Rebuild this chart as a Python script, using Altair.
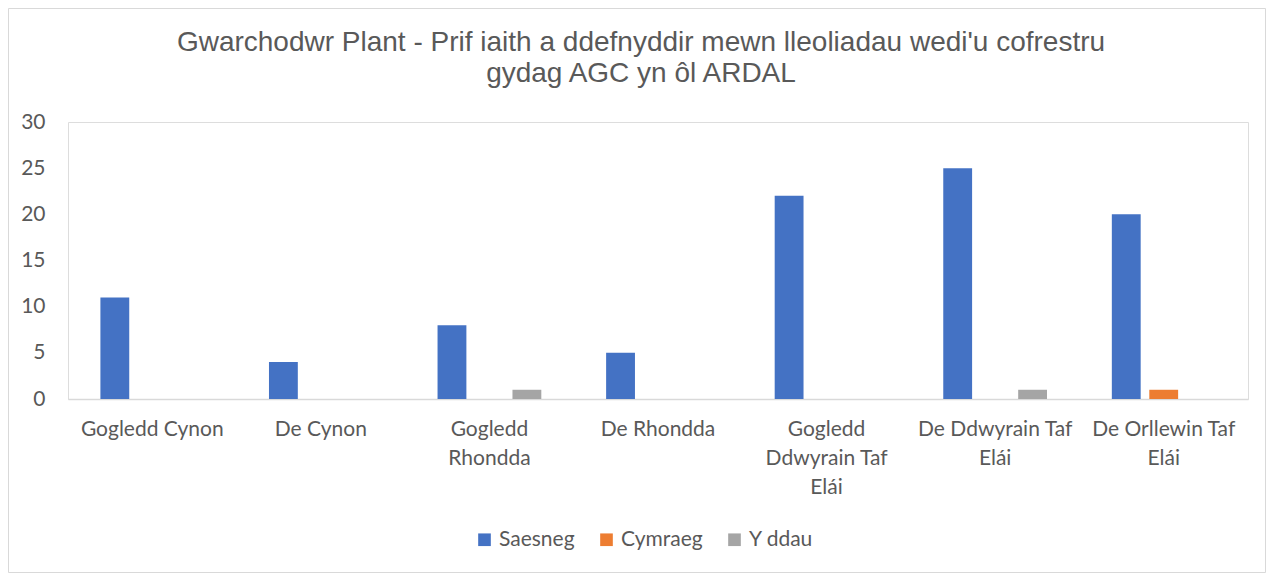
import altair as alt
import pandas as pd

categories = ["Gogledd Cynon", "De Cynon", "Gogledd|Rhondda", "De Rhondda",
              "Gogledd|Ddwyrain Taf|Elái", "De Ddwyrain Taf|Elái", "De Orllewin Taf|Elái"]
series = ["Saesneg", "Cymraeg", "Y ddau"]
saesneg = [11, 4, 8, 5, 22, 25, 20]
cymraeg = [0, 0, 0, 0, 0, 0, 1]
y_ddau = [0, 0, 1, 0, 0, 1, 0]
colors = ["#4472C4", "#ED7D31", "#A5A5A5"]
title_lines = ["Gwarchodwr Plant - Prif iaith a ddefnyddir mewn lleoliadau wedi'u cofrestru",
               "gydag AGC yn ôl ARDAL"]

rows = []
for i, c in enumerate(categories):
    for s, vals in zip(series, [saesneg, cymraeg, y_ddau]):
        rows.append({"ardal": c, "cyfres": s, "gwerth": vals[i]})
df = pd.DataFrame(rows)

FONT = "Lato"
FS = 21
GREY = "#595959"

bars = alt.Chart(df).mark_bar().encode(
    x=alt.X("ardal:N", sort=categories, title=None,
            scale=alt.Scale(paddingInner=0, paddingOuter=0),
            axis=alt.Axis(labelAngle=0, labelExpr="split(datum.label, '|')",
                          labelFont=FONT, labelFontSize=FS, labelColor=GREY,
                          labelPadding=19, labelLineHeight=29, ticks=False,
                          domain=True, domainColor="#D9D9D9", domainWidth=1.5,
                          grid=False, labelBaseline="top")),
    xOffset=alt.XOffset("cyfres:N", sort=series,
                        scale=alt.Scale(paddingInner=0.23, paddingOuter=0.865)),
    y=alt.Y("gwerth:Q", title=None,
            scale=alt.Scale(domain=[0, 30]),
            axis=alt.Axis(values=[0, 5, 10, 15, 20, 25, 30], labelFont=FONT,
                          labelFontSize=FS, labelColor=GREY, labelPadding=23,
                          ticks=False, domain=False, gridColor="#D9D9D9",
                          gridWidth=1.5)),
    color=alt.Color("cyfres:N", sort=series, title=None,
                    scale=alt.Scale(domain=series, range=colors),
                    legend=alt.Legend(orient="none", direction="horizontal",
                                      legendX=406, legendY=407,
                                      symbolType="square", symbolSize=160,
                                      symbolStrokeWidth=0,
                                      labelFont=FONT, labelFontSize=FS,
                                      labelColor=GREY, columnPadding=21,
                                      symbolOffset=0, labelOffset=4)),
)

frame = alt.Chart(pd.DataFrame({"a": [0]})).mark_rect(
    fill=None, stroke="#D9D9D9", strokeWidth=1
).encode(x=alt.value(-59.5), x2=alt.value(1197.5), y=alt.value(-113.5), y2=alt.value(450.5))

tdf = pd.DataFrame({"line": title_lines, "i": list(range(len(title_lines)))})
title = alt.Chart(tdf).mark_text(
    font="Liberation Sans", fontSize=28, color=GREY, align="center",
    baseline="alphabetic"
).encode(
    text="line:N",
    x=alt.value(573),
    y=alt.Y("i:Q", axis=None, scale=alt.Scale(domain=[0, 1], range=[-71, -40])),
)

chart = alt.layer(frame, title, bars).resolve_scale(y="independent").properties(
    width=1180, height=277,
    autosize=alt.AutoSizeParams(type="none"),
    padding={"left": 60, "top": 114, "right": 18, "bottom": 174},
).configure_view(stroke=None).configure(background="white")

chart.save("out.html", embed_options={"renderer": "svg", "actions": False})
